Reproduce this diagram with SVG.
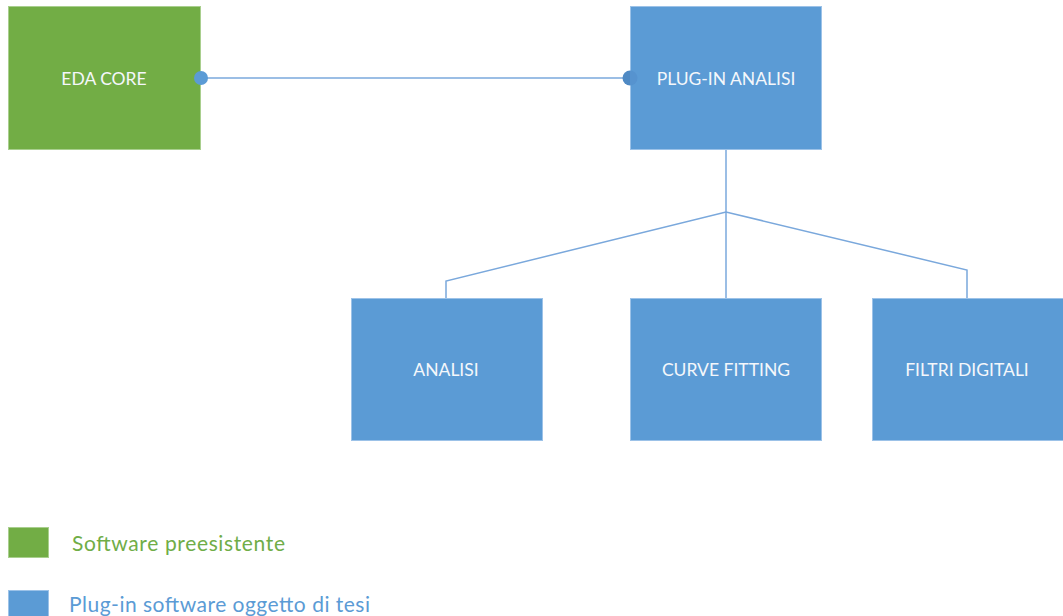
<svg xmlns="http://www.w3.org/2000/svg" width="1063" height="616" viewBox="0 0 1063 616">
  <style>
    .box { stroke-width: 1; }
    .green { fill: #72ad45; stroke: #a9cf8e; }
    .blue { fill: #5b9bd5; stroke: #9cc2e8; }
    .label { font-family: Lato, "Open Sans", "Liberation Sans", sans-serif; font-size: 17.5px; fill: #f4f7fb; text-anchor: middle; dominant-baseline: central; }
    .wire { fill: none; stroke: #7aa8dc; stroke-width: 1.5; }
    .legend { font-family: Lato, "Open Sans", "Liberation Sans", sans-serif; font-size: 21px; }
  </style>
  <rect width="1063" height="616" fill="#ffffff"/>

  <g id="eda-core">
    <rect class="box green" x="8.5" y="6.5" width="192" height="143"/>
    <text class="label" x="104" y="78">EDA CORE</text>
  </g>

  <g id="plugin-analisi">
    <rect class="box blue" x="630.5" y="6.5" width="191" height="143"/>
    <text class="label" x="726" y="78">PLUG-IN ANALISI</text>
  </g>

  <g id="analisi">
    <rect class="box blue" x="351.5" y="298.5" width="191" height="142"/>
    <text class="label" x="446" y="369">ANALISI</text>
  </g>

  <g id="curve-fitting">
    <rect class="box blue" x="630.5" y="298.5" width="191" height="142"/>
    <text class="label" x="726" y="369">CURVE FITTING</text>
  </g>

  <g id="filtri-digitali">
    <rect class="box blue" x="872.5" y="298.5" width="192" height="142"/>
    <text class="label" x="967" y="369">FILTRI DIGITALI</text>
  </g>

  <!-- connectors, drawn over the boxes so the end dots stay visible -->
  <g id="connectors">
    <line class="wire" x1="201" y1="78" x2="630" y2="78"/>
    <circle cx="201" cy="78" r="7" fill="#5b9bd5"/>
    <path d="M630,70.5 A7.5,7.5 0 0 0 630,85.5 Z" fill="#4f8ac4"/>
    <path d="M630,70.5 A7.5,7.5 0 0 1 630,85.5 Z" fill="#5693cf"/>
    <polyline class="wire" points="726,150 726,298"/>
    <polyline class="wire" points="446,298 446,281 726,212 967,270 967,298"/>
  </g>

  <!-- legend -->
  <g id="legend-existing">
    <rect class="box green" x="8.5" y="527.5" width="40" height="30"/>
    <text class="legend" x="72" y="551" fill="#70ad47" textLength="213">Software preesistente</text>
  </g>
  <g id="legend-plugin">
    <rect class="box blue" x="8.5" y="590.5" width="40" height="30"/>
    <text class="legend" x="69" y="612" fill="#5b9bd5" textLength="301">Plug-in software oggetto di tesi</text>
  </g>
</svg>
